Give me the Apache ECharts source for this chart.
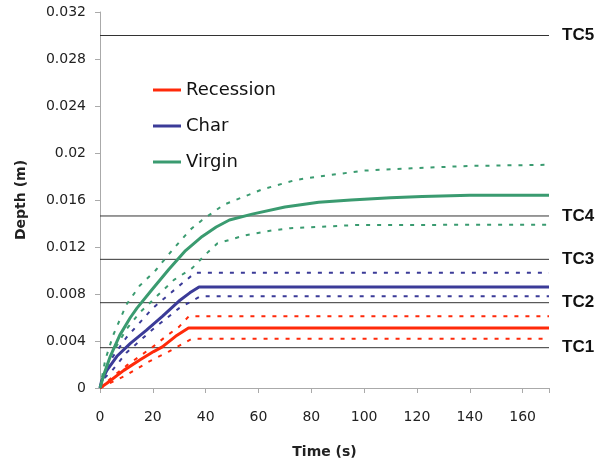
<!DOCTYPE html>
<html><head><meta charset="utf-8">
<script src="https://cdn.jsdelivr.net/npm/echarts@6/dist/echarts.min.js"></script>
<style>html,body{margin:0;padding:0;background:#fff}#c{width:599px;height:464px}</style>
</head><body><div id="c"></div>
<script>
// ---- Data ----
const recT  = [0, 2.6, 9, 15.2, 20.3, 23.6, 28.6, 33.5, 170];
const recV  = [0, 0.0004, 0.0015, 0.0024, 0.0031, 0.0035, 0.0044, 0.0051, 0.0051];
const recUpT = [0, 5, 10, 20, 25, 29.9, 33.6, 170];
const recUpV = [0, 0.0010, 0.0019, 0.0035, 0.0044, 0.0052, 0.0061, 0.0061];
const recLoT = [0, 10, 18.5, 26, 34.9, 170];
const recLoV = [0, 0.0011, 0.00224, 0.0031, 0.0042, 0.0042];

const charT  = [0, 0.6, 2.6, 6.4, 11.5, 17.5, 23.6, 29.9, 34, 37.5, 170];
const charV  = [0, 0.0006, 0.0015, 0.0027, 0.0038, 0.0049, 0.0061, 0.0074, 0.0081, 0.0086, 0.0086];
const charUpT = [0, 2, 5, 10, 20, 30, 36, 170];
const charUpV = [0, 0.0016, 0.0027, 0.0043, 0.0068, 0.0087, 0.0098, 0.0098];
const charLoT = [0, 2, 5, 10, 20, 30, 38, 170];
const charLoV = [0, 0.0009, 0.0016, 0.0030, 0.0050, 0.0068, 0.0078, 0.0078];

const virT  = [0, 1.4, 3.9, 7.5, 11.5, 14, 19.8, 26.1, 32.4, 38.7, 44, 49, 57.6, 70, 82.8, 95, 110, 122, 140, 170];
const virV  = [0, 0.0011, 0.0027, 0.0045, 0.0060, 0.0068, 0.0084, 0.0101, 0.0117, 0.0129, 0.0137, 0.0143, 0.0148, 0.0154, 0.0158, 0.0160, 0.0162, 0.0163, 0.0164, 0.0164];
const virUpT = [0, 2, 5, 10, 15, 21, 28, 34.3, 38.7, 46.9, 61.4, 74, 82.8, 100, 118, 140, 170];
const virUpV = [0, 0.0024, 0.0045, 0.0071, 0.0087, 0.0100, 0.0119, 0.0135, 0.0143, 0.0156, 0.0169, 0.0177, 0.0180, 0.0185, 0.0187, 0.0189, 0.0190];
const virLoT = [0, 2, 5, 10, 15, 21, 28, 34.9, 40.6, 44.4, 55, 65, 72, 97, 170];
const virLoV = [0, 0.0016, 0.0031, 0.0050, 0.0064, 0.0077, 0.0092, 0.0102, 0.0115, 0.0123, 0.0130, 0.0134, 0.0136, 0.01387, 0.0139];

const tcNames  = ['TC1', 'TC2', 'TC3', 'TC4', 'TC5'];
const tcValues = [0.00343, 0.00726, 0.01095, 0.01464, 0.0300];
const tcSpan   = [0, 170];

const xTicks = [0, 20, 40, 60, 80, 100, 120, 140, 160];
const yTicks = [0, 0.004, 0.008, 0.012, 0.016, 0.02, 0.024, 0.028, 0.032];

// ---- Styles ----
const RED = '#ff2a0a', BLUE = '#3b3b98', GREEN = '#3a9b70';
const zip = (t, v) => t.map((x, i) => [x, v[i]]);
const solid = (name, t, v, c) => ({
  name, type: 'line', data: zip(t, v), showSymbol: false, symbol: 'none',
  lineStyle: { color: c, width: 3 }, itemStyle: { color: c }, z: 3, animation: false
});
const dashed = (name, t, v, c) => ({
  name, type: 'line', data: zip(t, v), showSymbol: false, symbol: 'none',
  lineStyle: { color: c, width: 2, type: [4, 7] }, itemStyle: { color: c }, z: 2, animation: false
});
const tcSeries = tcNames.map((n, i) => ({
  name: n, type: 'line', data: tcSpan.map(x => [x, tcValues[i]]), showSymbol: false, symbol: 'none',
  lineStyle: { color: '#333', width: 1 }, itemStyle: { color: '#333' }, z: 1, animation: false, silent: true,
  endLabel: { show: true, formatter: n, distance: 13,
    fontFamily: '"Liberation Sans", Arial, sans-serif', fontSize: 17, fontWeight: 'bold', color: '#111' }
}));
const font = '"DejaVu Sans", sans-serif';

const chart = echarts.init(document.getElementById('c'));
chart.setOption({
  animation: false,
  backgroundColor: '#fff',
  grid: { left: 100, top: 12, right: 50, bottom: 76, containLabel: false },
  legend: {
    data: ['Recession', 'Char', 'Virgin'],
    orient: 'vertical', left: 148, top: 74,
    icon: 'rect', itemWidth: 28, itemHeight: 3, itemGap: 14,
    textStyle: { fontFamily: font, fontSize: 18, color: '#111', lineHeight: 22 },
    selectedMode: false
  },
  xAxis: {
    type: 'value', min: 0, max: 170, interval: 20,
    name: 'Time (s)', nameLocation: 'middle', nameGap: 57,
    nameTextStyle: { fontFamily: font, fontSize: 14, fontWeight: 'bold', color: '#222' },
    axisLine: { show: true, lineStyle: { color: '#aaa', width: 1 } },
    axisTick: { show: true, inside: false, length: 5, lineStyle: { color: '#aaa' } },
    axisLabel: { fontFamily: font, fontSize: 14, color: '#222', margin: 22,
      formatter: v => xTicks.includes(v) ? String(v) : '' },
    splitLine: { show: false }
  },
  yAxis: {
    type: 'value', min: 0, max: 0.032, interval: 0.004,
    name: 'Depth (m)', nameLocation: 'middle', nameGap: 72, nameRotate: 90,
    nameTextStyle: { fontFamily: font, fontSize: 14, fontWeight: 'bold', color: '#222' },
    axisLine: { show: true, lineStyle: { color: '#aaa', width: 1 } },
    axisTick: { show: true, inside: false, length: 5, lineStyle: { color: '#aaa' } },
    axisLabel: { fontFamily: font, fontSize: 14, color: '#222', margin: 14,
      formatter: v => { const r = yTicks.find(t => Math.abs(t - v) < 1e-9); return r === undefined ? '' : String(+r.toFixed(3)); } },
    splitLine: { show: false }
  },
  series: [
    ...tcSeries,
    dashed('Recession upper', recUpT, recUpV, RED),
    dashed('Recession lower', recLoT, recLoV, RED),
    dashed('Char upper', charUpT, charUpV, BLUE),
    dashed('Char lower', charLoT, charLoV, BLUE),
    dashed('Virgin upper', virUpT, virUpV, GREEN),
    dashed('Virgin lower', virLoT, virLoV, GREEN),
    solid('Recession', recT, recV, RED),
    solid('Char', charT, charV, BLUE),
    solid('Virgin', virT, virV, GREEN)
  ]
});
</script></body></html>
